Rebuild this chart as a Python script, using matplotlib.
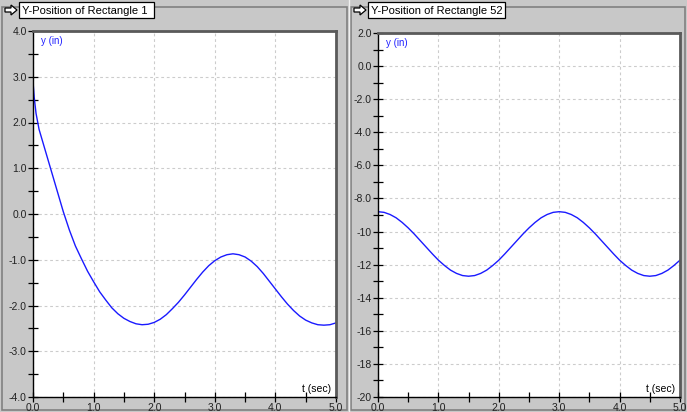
import matplotlib
matplotlib.use("Agg")
import matplotlib.pyplot as plt
from matplotlib.patches import Rectangle, Polygon
from matplotlib.ticker import MultipleLocator, FixedLocator

# Rectangle 1: y position (in) over time (sec)
t_rect1 = [0.0, 0.02, 0.05, 0.1, 0.2, 0.3, 0.4, 0.5, 0.6, 0.7, 0.8, 0.9,
           1.0, 1.1, 1.2, 1.3, 1.4, 1.5, 1.6, 1.7, 1.8, 1.9,
           2.0, 2.1, 2.2, 2.3, 2.4, 2.5, 2.6, 2.7, 2.8, 2.9,
           3.0, 3.1, 3.2, 3.3, 3.4, 3.5, 3.6, 3.7, 3.8, 3.9,
           4.0, 4.1, 4.2, 4.3, 4.4, 4.5, 4.6, 4.7, 4.8, 4.9, 5.0]
y_rect1 = [2.90, 2.55, 2.20, 1.85, 1.40, 0.95, 0.50, 0.05, -0.35, -0.70, -0.98, -1.25,
           -1.48, -1.70, -1.88, -2.05, -2.18, -2.28, -2.35, -2.40, -2.42, -2.41,
           -2.37, -2.30, -2.20, -2.07, -1.93, -1.77, -1.60, -1.43, -1.27, -1.13,
           -1.02, -0.94, -0.89, -0.87, -0.89, -0.94, -1.03, -1.15, -1.30, -1.47,
           -1.64, -1.81, -1.97, -2.11, -2.23, -2.32, -2.38, -2.42, -2.43, -2.42, -2.38]

# Rectangle 52
t_rect52 = [0.0, 0.1, 0.2, 0.3, 0.4, 0.5, 0.6, 0.7, 0.8, 0.9,
            1.0, 1.1, 1.2, 1.3, 1.4, 1.5, 1.6, 1.7, 1.8, 1.9,
            2.0, 2.1, 2.2, 2.3, 2.4, 2.5, 2.6, 2.7, 2.8, 2.9,
            3.0, 3.1, 3.2, 3.3, 3.4, 3.5, 3.6, 3.7, 3.8, 3.9,
            4.0, 4.1, 4.2, 4.3, 4.4, 4.5, 4.6, 4.7, 4.8, 4.9, 5.0]
y_rect52 = [-8.80, -8.84, -8.97, -9.17, -9.45, -9.78, -10.15, -10.55, -10.95, -11.35,
            -11.73, -12.05, -12.33, -12.53, -12.66, -12.70, -12.66, -12.53, -12.33, -12.05,
            -11.73, -11.35, -10.95, -10.55, -10.15, -9.78, -9.45, -9.17, -8.97, -8.84,
            -8.80, -8.84, -8.97, -9.17, -9.45, -9.78, -10.15, -10.55, -10.95, -11.35,
            -11.73, -12.05, -12.33, -12.53, -12.66, -12.70, -12.66, -12.53, -12.33, -12.05,
            -11.73]

x_ticks = [0, 1, 2, 3, 4, 5]
x_labels = ["0.0", "1.0", "2.0", "3.0", "4.0", "5.0"]
y_ticks_rect1 = [-4, -3, -2, -1, 0, 1, 2, 3, 4]
y_labels_rect1 = ["-4.0", "-3.0", "-2.0", "-1.0", "0.0", "1.0", "2.0", "3.0", "4.0"]
y_ticks_rect52 = [-20, -18, -16, -14, -12, -10, -8, -6, -4, -2, 0, 2]
y_labels_rect52 = ["-20", "-18", "-16", "-14", "-12", "-10",
                   "-8.0", "-6.0", "-4.0", "-2.0", "0.0", "2.0"]

W, H = 687, 412
BG = "#c8c8c8"
FONT = "Liberation Sans"

fig = plt.figure(figsize=(W / 100, H / 100), dpi=100, facecolor=BG)


def fbox(x0, y0, x1, y1):
    # pixel box (top-left origin) -> figure fraction [left, bottom, w, h]
    return [x0 / W, 1 - y1 / H, (x1 - x0) / W, (y1 - y0) / H]


def frect(x0, y0, x1, y1, z, **kw):
    l, b, w, h = fbox(x0, y0, x1, y1)
    fig.add_artist(Rectangle((l, b), w, h, transform=fig.transFigure, zorder=z, **kw))


def arrow_icon(x0, y0):
    pts = [(0, 3), (6, 3), (6, 0), (12, 5), (6, 10), (6, 7), (0, 7)]
    xy = [((x0 + px) / W, 1 - (y0 + py) / H) for px, py in pts]
    fig.add_artist(Polygon(xy, closed=True, transform=fig.transFigure, zorder=5,
                           facecolor="white", edgecolor="black", lw=0.9))


def panel(px0, px1, title, title_w, ax_box, t, y, ylim, yticks, ylabels, ymin_step):
    # panel border (behind the axes)
    frect(px0, 7, px1, 410, -10, facecolor=BG, edgecolor="#808080", lw=1.2)
    # title tab
    arrow_icon(px0 + 3, 5)
    frect(px0 + 17, 2, px0 + 17 + title_w, 18, 5, facecolor="white", edgecolor="black", lw=0.9)
    fig.text((px0 + 20) / W, 1 - 10.5 / H, title, fontsize=8, family=FONT,
             va="center", ha="left", zorder=6)

    ax = fig.add_axes(fbox(*ax_box))
    ax.set_facecolor("white")
    ax.plot(t, y, color="#1a1aff", lw=1.0)
    ax.set_xlim(0, 5)
    ax.set_ylim(*ylim)

    ax.xaxis.set_major_locator(FixedLocator(x_ticks))
    ax.set_xticklabels(x_labels)
    ax.xaxis.set_minor_locator(MultipleLocator(0.5))
    ax.yaxis.set_major_locator(FixedLocator(yticks))
    ax.set_yticklabels(ylabels)
    ax.yaxis.set_minor_locator(MultipleLocator(ymin_step))

    ax.tick_params(which="both", direction="inout", length=7, width=0.9,
                   color="black", labelsize=7.5, pad=1, labelcolor="#222222")
    for lab in ax.get_xticklabels() + ax.get_yticklabels():
        lab.set_family(FONT)

    ax.grid(True, which="major", color="#cccccc", lw=0.8, linestyle=(0, (2.5, 2.5)))
    ax.set_axisbelow(True)

    for side in ("left", "bottom"):
        ax.spines[side].set_color("black")
        ax.spines[side].set_linewidth(1.0)
    for side in ("top", "right"):
        ax.spines[side].set_color("#5a5a5a")
        ax.spines[side].set_linewidth(2.0)

    ax.text(0.025, 0.985, "y (in)", transform=ax.transAxes, color="#2020ff",
            fontsize=7, family=FONT, ha="left", va="top")
    ax.text(0.985, 0.008, "t (sec)", transform=ax.transAxes, color="black",
            fontsize=7.5, family=FONT, ha="right", va="bottom")
    return ax


panel(2, 347, "Y-Position of Rectangle 1", 135, (33, 31, 336, 397),
      t_rect1, y_rect1, (-4, 4), y_ticks_rect1, y_labels_rect1, 0.5)
panel(351, 685, "Y-Position of Rectangle 52", 137, (378, 33, 680, 397),
      t_rect52, y_rect52, (-20, 2), y_ticks_rect52, y_labels_rect52, 1.0)

# light separator between the two panels
fig.add_artist(plt.Line2D([349 / W, 349 / W], [0, 1], transform=fig.transFigure,
                          color="#f0f0f0", lw=1.0, zorder=-9))

fig.savefig("out.png", dpi=100, facecolor=BG)
